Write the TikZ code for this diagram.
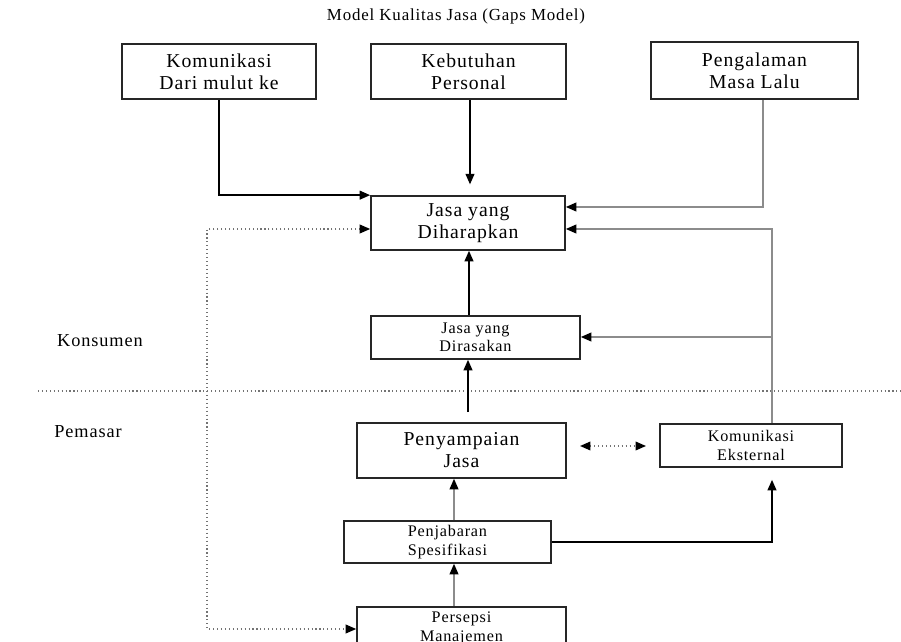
\documentclass[tikz,border=0pt]{standalone}
\usepackage{fontspec}
\setmainfont{Liberation Serif}[LetterSpace=5]
\usetikzlibrary{arrows.meta}
\begin{document}
\begin{tikzpicture}[x=0.025cm,y=-0.025cm,
 kotak/.style={draw=black!85,line width=1.2pt,align=center,inner sep=0pt},
 besar/.style={kotak,font=\fontsize{14}{15.6}\selectfont},
 kecil/.style={kotak,font=\fontsize{11.5}{13}\selectfont},
 label/.style={font=\fontsize{13}{15}\selectfont},
 panah/.style={line width=1pt,-{Triangle[length=0.26cm,width=0.22cm]}},
 panahabu/.style={draw=black!45,line width=0.9pt,-{Triangle[length=0.26cm,width=0.22cm,color=black]}},
 titik/.style={draw=black!55,line width=0.8pt,dotted}]
 \useasboundingbox (0,0) rectangle (901,642);
 \clip (0,0) rectangle (901,642);
 \node[font=\fontsize{12}{14}\selectfont] (judul) at (456,16) {Model Kualitas Jasa (Gaps Model)};
 \node[besar,minimum width=4.85cm,minimum height=1.375cm] (kom) at (219,71.5) {Komunikasi\\Dari mulut ke};
 \node[besar,minimum width=4.875cm,minimum height=1.375cm] (keb) at (468.5,71.5) {Kebutuhan\\Personal};
 \node[besar,minimum width=5.175cm,minimum height=1.425cm] (alami) at (754.5,70.5) {Pengalaman\\Masa Lalu};
 \node[besar,minimum width=4.85cm,minimum height=1.35cm] (harap) at (468,223) {Jasa yang\\Diharapkan};
 \node[kecil,minimum width=5.225cm,minimum height=1.075cm] (rasa) at (475.5,337.5) {Jasa yang\\Dirasakan};
 \node[besar,minimum width=5.225cm,minimum height=1.375cm] (sampai) at (461.5,450.5) {Penyampaian\\Jasa};
 \node[kecil,minimum width=4.55cm,minimum height=1.075cm] (eks) at (751,445.5) {Komunikasi\\Eksternal};
 \node[kecil,minimum width=5.175cm,minimum height=1.05cm] (jabar) at (447.5,542) {Penjabaran\\Spesifikasi};
 \node[kecil,minimum width=5.225cm,minimum height=1.075cm] (persepsi) at (461.5,628.5) {Persepsi\\Manajemen};
 \node[label] (kons) at (100,341) {Konsumen};
 \node[label] (pem) at (88,432) {Pemasar};
 \draw[titik] (38,391) -- (901,391);
 \draw[panah] (kom) |- (harap.north west);
 \draw[panah,shorten >=0.27cm] (keb.south -| 470,0) -- (harap.north -| 470,0);
 \draw[panahabu] (alami.south -| 763,0) |- (harap.east |- 0,207);
 \draw[panahabu] (eks.north -| 772,0) |- (harap.east |- 0,229);
 \draw[panahabu] (772,337) -- (rasa.east |- 0,337);
 \draw[panah] (rasa.north -| 469,0) -- (harap.south -| 469,0);
 \draw[panah,shorten <=0.25cm] (sampai.north -| 468,0) -- (rasa.south -| 468,0);
 \draw[panahabu] (jabar.north -| 454,0) -- (sampai.south -| 454,0);
 \draw[panahabu] (persepsi.north -| 454,0) -- (jabar.south -| 454,0);
 \draw[panah,shorten >=0.3cm] (jabar.east) -| (eks.south -| 772,0);
 \draw[titik,{Triangle[length=0.26cm,width=0.22cm,color=black]}-{Triangle[length=0.26cm,width=0.22cm,color=black]},shorten <=0.33cm,shorten >=0.33cm] (sampai.east |- 0,446) -- (eks.west |- 0,446);
 \draw[titik,{Triangle[length=0.26cm,width=0.22cm,color=black]}-{Triangle[length=0.26cm,width=0.22cm,color=black]}] (harap.west |- 0,229) -| (207,629) -- (persepsi.west |- 0,629);
\end{tikzpicture}
\end{document}
